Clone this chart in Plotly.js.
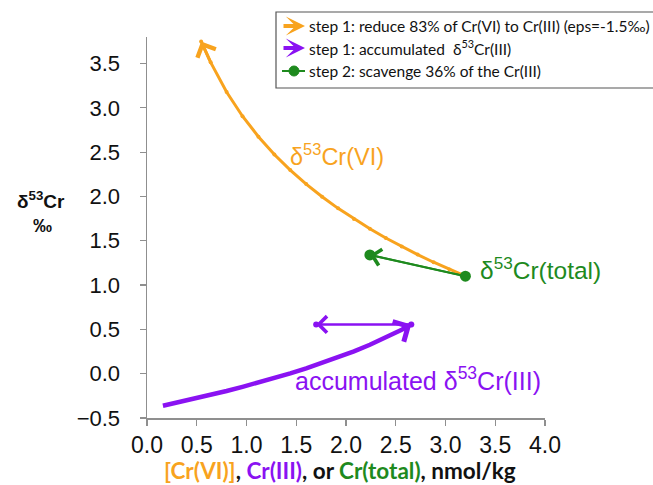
<!DOCTYPE html>
<html>
<head>
<meta charset="utf-8">
<script src="https://cdn.plot.ly/plotly-3.0.1.min.js"></script>
<style>html,body{margin:0;padding:0;background:#fff;}#chart{width:653px;height:485px;}</style>
</head>
<body>
<div id="chart"></div>
<script>
// Step 1: remaining Cr(VI) and its delta53Cr (orange curve)
const crVI_x = [3.20, 3.04, 2.88, 2.72, 2.56, 2.40, 2.24, 2.08, 1.92, 1.76, 1.60, 1.44, 1.28, 1.12, 0.96, 0.80, 0.64, 0.544];
const crVI_d = [1.100, 1.177, 1.258, 1.344, 1.435, 1.532, 1.635, 1.746, 1.866, 1.997, 2.140, 2.298, 2.474, 2.675, 2.906, 3.179, 3.514, 3.750];
// Step 1: accumulated Cr(III) and its delta53Cr (purple curve)
const crIII_x = [0.16, 0.32, 0.48, 0.64, 0.80, 0.96, 1.12, 1.28, 1.44, 1.60, 1.76, 1.92, 2.08, 2.24, 2.40, 2.56, 2.656];
const crIII_d = [-0.362, -0.323, -0.281, -0.239, -0.195, -0.148, -0.100, -0.049, 0.004, 0.060, 0.120, 0.184, 0.252, 0.326, 0.407, 0.496, 0.556];
// Step 2: scavenge 36% of the Cr(III)
const scav_x = [2.656, 1.70];
const scav_d = [0.556, 0.556];
// Step 2: Cr(total)
const total_x = [3.20, 2.24];
const total_d = [1.10, 1.34];

const xTicks = [0, 0.5, 1, 1.5, 2, 2.5, 3, 3.5, 4];
const yTicks = [-0.5, 0, 0.5, 1, 1.5, 2, 2.5, 3, 3.5];

const ORANGE = '#F8A31E';
const PURPLE = '#8A12F2';
const GREEN = '#1E8A1E';
const AXIS = '#8f8f8f';

// pixel geometry of plot area (for paper-coordinate helpers)
const W = 653, H = 485, L = 147, R = 108, T = 37, B = 67;
const PW = W - L - R, PH = H - T - B;
const px = v => (v - L) / PW;
const py = v => (H - B - v) / PH;

const traces = [
  {x: crVI_x, y: crVI_d, mode: 'lines+markers', line: {color: ORANGE, width: 3}, marker: {color: ORANGE, size: 4}, hoverinfo: 'skip'},
  {x: crIII_x, y: crIII_d, mode: 'lines+markers', line: {color: PURPLE, width: 4.5},
   marker: {color: PURPLE, size: crIII_x.map((v, i) => i === crIII_x.length - 1 ? 6 : 0)}, hoverinfo: 'skip'},
  {x: scav_x, y: scav_d, mode: 'lines+markers', line: {color: PURPLE, width: 2}, marker: {color: PURPLE, size: 6}, hoverinfo: 'skip'},
  {x: total_x, y: total_d, mode: 'lines+markers', line: {color: GREEN, width: 2}, marker: {color: GREEN, size: 11}, hoverinfo: 'skip'}
];

function headArrow(xs, ys, color, width, size) {
  const n = xs.length;
  return {x: xs[n - 1], y: ys[n - 1], ax: xs[n - 2], ay: ys[n - 2], xref: 'x', yref: 'y', axref: 'x', ayref: 'y',
    text: '', showarrow: true, arrowhead: 4, arrowsize: size, arrowwidth: width, arrowcolor: color, standoff: 0};
}

const legFont = {family: 'Lato, "Open Sans", sans-serif', size: 15.5, color: '#111'};
const SANS = 'Liberation Sans, Arial, sans-serif';
function paperText(x, y, text, font, xa) {
  return {x: px(x), y: py(y), xref: 'paper', yref: 'paper', xanchor: xa || 'center', yanchor: 'middle',
    text: text, showarrow: false, font: font};
}
const annotations = [
  headArrow(crVI_x, crVI_d, ORANGE, 3, 1.3),
  headArrow(crIII_x, crIII_d, PURPLE, 4, 1.1),
  headArrow(scav_x, scav_d, PURPLE, 2, 1.6),
  headArrow(total_x, total_d, GREEN, 2, 1.6),
  // curve labels
  {x: 1.91, y: 2.467, xref: 'x', yref: 'y', xanchor: 'center', yanchor: 'middle', text: 'δ<sup>53</sup>Cr(VI)', showarrow: false,
   font: {family: SANS, size: 23.5, color: ORANGE}},
  {x: 3.33, y: 1.19, xref: 'x', yref: 'y', xanchor: 'left', yanchor: 'middle', text: 'δ<sup>53</sup>Cr(total)', showarrow: false,
   font: {family: SANS, size: 24.5, color: GREEN}},
  {x: 1.47, y: -0.06, xref: 'x', yref: 'y', xanchor: 'left', yanchor: 'middle', text: 'accumulated δ<sup>53</sup>Cr(III)', showarrow: false,
   font: {family: SANS, size: 25, color: PURPLE}},
  // y-axis title
  paperText(41, 200, '<b>δ<sup>53</sup>Cr</b>', {family: SANS, size: 19, color: '#111'}),
  paperText(43, 225, '<b>‰</b>', {family: SANS, size: 19, color: '#111'}),
  // x-axis title
  paperText(340, 470,
   '<b><span style="color:' + ORANGE + '">[Cr(VI)]</span>, <span style="color:' + PURPLE + '">Cr(III)</span>, or <span style="color:' + GREEN + '">Cr(total)</span>, nmol/kg</b>',
   {family: 'Lato, "Open Sans", sans-serif', size: 22.5, color: '#111'}),
  // legend entries
  {x: px(305), y: py(26), xref: 'paper', yref: 'paper', ax: -23, ay: 0, text: '', showarrow: true,
   arrowhead: 3, arrowsize: 0.8, arrowwidth: 4, arrowcolor: ORANGE, standoff: 0},
  {x: px(305), y: py(48), xref: 'paper', yref: 'paper', ax: -23, ay: 0, text: '', showarrow: true,
   arrowhead: 3, arrowsize: 0.8, arrowwidth: 4, arrowcolor: PURPLE, standoff: 0},
  paperText(307, 26, 'step 1: reduce 83% of Cr(VI) to Cr(III) (eps=-1.5‰)', legFont, 'left'),
  paperText(307, 48, 'step 1: accumulated  δ<sup>53</sup>Cr(III)', legFont, 'left'),
  paperText(307, 71, 'step 2: scavenge 36% of the Cr(III)', legFont, 'left')
];

const shapes = [
  {type: 'rect', xref: 'paper', yref: 'paper', x0: px(276), x1: px(670), y0: py(88), y1: py(12),
   line: {color: '#555', width: 1.2}, fillcolor: 'rgba(255,255,255,0)', layer: 'above'},
  {type: 'line', xref: 'paper', yref: 'paper', x0: px(282), x1: px(305), y0: py(71), y1: py(71),
   line: {color: GREEN, width: 2}},
  {type: 'circle', xref: 'paper', yref: 'paper', x0: px(289), x1: px(299), y0: py(76), y1: py(66),
   line: {color: GREEN, width: 1}, fillcolor: GREEN}
];

const axisCommon = {
  showline: true, linecolor: AXIS, linewidth: 1.5, ticks: 'outside', ticklen: 6, tickwidth: 1.2, tickcolor: AXIS,
  showgrid: false, zeroline: false, tickformat: '.1f'
};

const layout = {
  width: W, height: H,
  margin: {l: L, r: R, t: T, b: B, pad: 0},
  paper_bgcolor: '#fff', plot_bgcolor: '#fff',
  showlegend: false,
  xaxis: Object.assign({}, axisCommon, {range: [0, 4], tickvals: xTicks, ticklabelstandoff: 0,
    tickfont: {family: SANS, size: 23, color: '#111'}}),
  yaxis: Object.assign({}, axisCommon, {range: [-0.5, 3.8], tickvals: yTicks, ticklabelstandoff: 15,
    tickfont: {family: SANS, size: 22, color: '#111'}}),
  annotations: annotations,
  shapes: shapes
};

Plotly.newPlot('chart', traces, layout, {staticPlot: true, displayModeBar: false});
</script>
</body>
</html>
